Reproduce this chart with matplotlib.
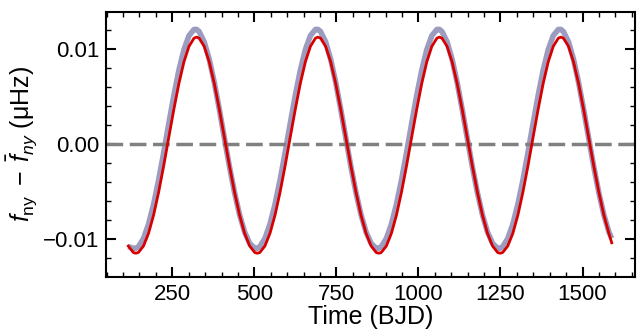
import matplotlib
matplotlib.use("Agg")
import matplotlib.pyplot as plt
from matplotlib.ticker import MultipleLocator, FuncFormatter

plt.rcParams['font.family'] = ['Liberation Sans', 'DejaVu Sans']
plt.rcParams['mathtext.fontset'] = 'custom'
plt.rcParams['mathtext.rm'] = 'Liberation Sans'
plt.rcParams['mathtext.it'] = 'Liberation Sans:italic'
plt.rcParams['mathtext.bf'] = 'Liberation Sans:bold'

# Time (BJD) of the sampled points
time_bjd = [
    115.9, 131.3, 139.0, 146.7, 162.2, 177.6, 193.0, 208.4, 223.8, 239.2, 254.7, 270.1, 285.5,
    300.9, 316.3, 324.0, 331.7, 347.2, 362.6, 378.0, 393.4, 408.8, 424.2, 439.7, 455.1, 470.5,
    485.9, 501.3, 509.0, 516.7, 532.2, 547.6, 563.0, 578.4, 593.8, 609.2, 624.7, 640.1, 655.5,
    670.9, 686.3, 694.0, 701.7, 717.2, 732.6, 748.0, 763.4, 778.8, 794.2, 809.7, 825.1, 840.5,
    855.9, 871.3, 879.0, 886.7, 902.2, 917.6, 933.0, 948.4, 963.8, 979.2, 994.7, 1010.1, 1025.5,
    1040.9, 1056.3, 1064.0, 1071.7, 1087.2, 1102.6, 1118.0, 1133.4, 1148.8, 1164.2, 1179.7, 1195.1, 1210.5,
    1225.9, 1241.3, 1249.0, 1256.7, 1272.2, 1287.6, 1303.0, 1318.4, 1333.8, 1349.2, 1364.7, 1380.1, 1395.5,
    1410.9, 1426.3, 1434.0, 1441.7, 1457.2, 1472.6, 1488.0, 1503.4, 1518.8, 1534.2, 1549.7, 1565.1, 1580.5,
    1589.0,
]

# Measured f_ny - mean (gray, thick)
measured_dfny = [
    -0.01080, -0.01098, -0.01098, -0.01081, -0.00995, -0.00844, -0.00635, -0.00379, -0.00090, 0.00213, 0.00510, 0.00777, 0.00994,
    0.01142, 0.01207, 0.01207, 0.01185, 0.01077, 0.00893, 0.00648, 0.00364, 0.00061, -0.00238, -0.00512, -0.00746, -0.00927,
    -0.01046, -0.01098, -0.01098, -0.01081, -0.00995, -0.00844, -0.00635, -0.00379, -0.00090, 0.00213, 0.00510, 0.00777, 0.00994,
    0.01142, 0.01207, 0.01207, 0.01185, 0.01077, 0.00893, 0.00648, 0.00364, 0.00061, -0.00238, -0.00512, -0.00746, -0.00927,
    -0.01046, -0.01098, -0.01098, -0.01081, -0.00995, -0.00844, -0.00635, -0.00379, -0.00090, 0.00213, 0.00510, 0.00777, 0.00994,
    0.01142, 0.01207, 0.01207, 0.01185, 0.01077, 0.00893, 0.00648, 0.00364, 0.00061, -0.00238, -0.00512, -0.00746, -0.00927,
    -0.01046, -0.01098, -0.01098, -0.01081, -0.00995, -0.00844, -0.00635, -0.00379, -0.00090, 0.00213, 0.00510, 0.00777, 0.00994,
    0.01142, 0.01207, 0.01207, 0.01185, 0.01077, 0.00893, 0.00648, 0.00364, 0.00061, -0.00238, -0.00512, -0.00746, -0.00927,
    -0.00993,
]

# Model f_ny - mean (red, thin)
model_dfny = [
    -0.01074, -0.01142, -0.01150, -0.01142, -0.01074, -0.00941, -0.00749, -0.00507, -0.00229, 0.00068, 0.00364, 0.00637, 0.00865,
    0.01029, 0.01115, 0.01126, 0.01115, 0.01029, 0.00865, 0.00637, 0.00364, 0.00068, -0.00229, -0.00507, -0.00749, -0.00941,
    -0.01074, -0.01142, -0.01150, -0.01142, -0.01074, -0.00941, -0.00749, -0.00507, -0.00229, 0.00068, 0.00364, 0.00637, 0.00865,
    0.01029, 0.01115, 0.01126, 0.01115, 0.01029, 0.00865, 0.00637, 0.00364, 0.00068, -0.00229, -0.00507, -0.00749, -0.00941,
    -0.01074, -0.01142, -0.01150, -0.01142, -0.01074, -0.00941, -0.00749, -0.00507, -0.00229, 0.00068, 0.00364, 0.00637, 0.00865,
    0.01029, 0.01115, 0.01126, 0.01115, 0.01029, 0.00865, 0.00637, 0.00364, 0.00068, -0.00229, -0.00507, -0.00749, -0.00941,
    -0.01074, -0.01142, -0.01150, -0.01142, -0.01074, -0.00941, -0.00749, -0.00507, -0.00229, 0.00068, 0.00364, 0.00637, 0.00865,
    0.01029, 0.01115, 0.01126, 0.01115, 0.01029, 0.00865, 0.00637, 0.00364, 0.00068, -0.00229, -0.00507, -0.00749, -0.00941,
    -0.01040,
]

x_label = "Time (BJD)"
y_label = r"$f_{\rm ny}\;-\;\bar{f}_{ny}$ (μHz)"

fig = plt.figure(figsize=(6.37, 3.36), dpi=100)
ax = fig.add_axes([0.1664, 0.1765, 0.8305, 0.7885])

ax.plot(time_bjd, measured_dfny, color='#9c9cc0', lw=4.0, solid_capstyle='butt',
        solid_joinstyle='round', zorder=2)
ax.axhline(0.0, color='#808080', lw=2.5, dashes=[4.8, 1.9], zorder=2.5)
ax.plot(time_bjd, model_dfny, color='#d60000', lw=2.0, solid_joinstyle='round', zorder=3)

ax.set_xlim(48, 1660)
ax.set_ylim(-0.01397, 0.01393)

ax.xaxis.set_major_locator(MultipleLocator(250))
ax.xaxis.set_minor_locator(MultipleLocator(50))
ax.yaxis.set_major_locator(MultipleLocator(0.01))
ax.yaxis.set_minor_locator(MultipleLocator(0.002))
ax.yaxis.set_major_formatter(FuncFormatter(lambda v, p: f"{v:.2f}".replace('-', '\u2212') if abs(v) > 1e-9 else "0.00"))

ax.tick_params(which='both', direction='in', top=True, right=True)
ax.tick_params(which='major', length=7.5, width=1.5, labelsize=16, pad=5)
ax.tick_params(which='minor', length=3.5, width=1.0)
for s in ax.spines.values():
    s.set_linewidth(1.5)

ax.set_xlabel(x_label, fontsize=18, labelpad=0)
ax.set_ylabel(y_label, fontsize=18, labelpad=3)

fig.savefig("out.png", dpi=100)
